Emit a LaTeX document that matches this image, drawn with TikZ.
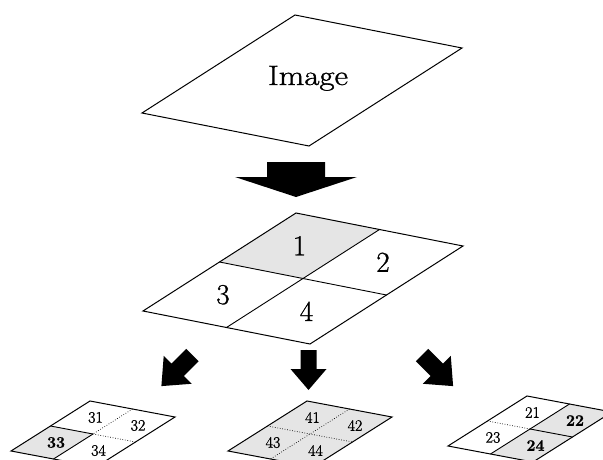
\documentclass[tikz,border=0pt]{standalone}
\usepackage{graphicx}
\usepackage{fontspec}
\setmainfont{Latin Modern Roman}[FakeBold=1]
\tikzset{
  outline/.style={line width=1pt, line join=miter},
  divider/.style={line width=0.9pt},
  dots/.style={line width=0.7pt, dash pattern=on 0.7pt off 1.8pt},
  shaded/.style={fill=black!10},
  bigdigit/.style={font=\fontsize{29}{30}\selectfont, inner sep=0pt},
  smalldigit/.style={font=\fontsize{16}{17}\selectfont, inner sep=0pt, xshift=4pt},
  boldsmall/.style={smalldigit, font=\fontsize{16}{17}\selectfont\bfseries},
  % unit square mapped onto the slanted sheets
  bigtile/.style={x={(167pt,-33pt)}, y={(-153pt,-98pt)}},
  smalltile/.style={x={(85pt,-16pt)}, y={(-79pt,-50pt)}},
  pics/blockarrow/.style args={#1/#2/#3/#4}{code={
    \fill (-#1,0) -- (-#1,#3) -- (-#2,#3) -- (0,#4) -- (#2,#3) -- (#1,#3) -- (#1,0) -- cycle;
  }},
}
\begin{document}
\begin{tikzpicture}[x=1pt, y=-1pt]
\clip (0,0) rectangle (603,460);
\fill[white] (0,0) rectangle (603,460);

% ---- whole image sheet ----
\begin{scope}[shift={(295,15)}, bigtile]
  \draw[outline] (0,0) coordinate (img) -- (1,0) -- (1,1) -- (0,1) -- cycle;
\end{scope}
\node[anchor=base, inner sep=0pt, font=\fontsize{28}{30}\selectfont] (imglabel) at (308,85) {\scalebox{1.18}[1]{Image}};

% ---- arrow down to the split ----
\pic at (296,162) {blockarrow={29/61/15/35}};

% ---- image split into four parts ----
\begin{scope}[shift={(296,213)}, bigtile]
  \fill[shaded] (0,0) -- (0.5,0) -- (0.5,0.5) -- (0,0.5) -- cycle;
  \draw[divider] (0.5,0) -- (0.5,1);
  \draw[divider] (0,0.5) -- (1,0.5);
  \draw[outline] (0,0) coordinate (split) -- (1,0) -- (1,1) -- (0,1) -- cycle;
  \node[bigdigit] (p1) at (0.25,0.25) {1};
  \node[bigdigit] (p2) at (0.75,0.25) {2};
  \node[bigdigit] (p3) at (0.25,0.75) {3};
  \node[bigdigit] (p4) at (0.75,0.75) {4};
\end{scope}

% ---- three arrows to the sub-splits ----
\pic[rotate=-45, scale=1.1] at (192.5,355) {blockarrow={8/18/19/40}};
\pic at (308.5,350) {blockarrow={8/18/19/40}};
\pic[rotate=45, scale=1.1] at (422,355) {blockarrow={8/18/19/40}};

% ---- part 3 split further ----
\begin{scope}[shift={(90,401)}, smalltile]
  \fill[shaded] (0,0.5) -- (0.5,0.5) -- (0.5,1) -- (0,1) -- cycle;
  \draw[dots] (0.5,0) -- (0.5,0.5);
  \draw[divider] (0.5,0.5) -- (0.5,1);
  \draw[divider] (0,0.5) -- (0.5,0.5);
  \draw[dots] (0.5,0.5) -- (1,0.5);
  \draw[outline] (0,0) coordinate (left) -- (1,0) -- (1,1) -- (0,1) -- cycle;
  \node[smalldigit] (l31) at (0.25,0.25) {31};
  \node[smalldigit] (l32) at (0.75,0.25) {32};
  \node[boldsmall]  (l33) at (0.25,0.75) {33};
  \node[smalldigit] (l34) at (0.75,0.75) {34};
\end{scope}

% ---- part 4 split further ----
\begin{scope}[shift={(307,401)}, smalltile]
  \fill[shaded] (0,0) -- (1,0) -- (1,1) -- (0,1) -- cycle;
  \draw[dots] (0.5,0) -- (0.5,1);
  \draw[dots] (0,0.5) -- (1,0.5);
  \draw[outline] (0,0) coordinate (mid) -- (1,0) -- (1,1) -- (0,1) -- cycle;
  \node[smalldigit] (m41) at (0.25,0.25) {41};
  \node[smalldigit] (m42) at (0.75,0.25) {42};
  \node[smalldigit] (m43) at (0.25,0.75) {43};
  \node[smalldigit] (m44) at (0.75,0.75) {44};
\end{scope}

% ---- part 2 split further ----
\begin{scope}[shift={(527,396)}, smalltile]
  \fill[shaded] (0.5,0) -- (1,0) -- (1,1) -- (0.5,1) -- cycle;
  \draw[divider] (0.5,0) -- (0.5,1);
  \draw[dots] (0,0.5) -- (0.5,0.5);
  \draw[divider] (0.5,0.5) -- (1,0.5);
  \draw[outline] (0,0) coordinate (right) -- (1,0) -- (1,1) -- (0,1) -- cycle;
  \node[smalldigit] (r21) at (0.25,0.25) {21};
  \node[boldsmall]  (r22) at (0.75,0.25) {22};
  \node[smalldigit] (r23) at (0.25,0.75) {23};
  \node[boldsmall]  (r24) at (0.75,0.75) {24};
\end{scope}
\end{tikzpicture}
\end{document}
